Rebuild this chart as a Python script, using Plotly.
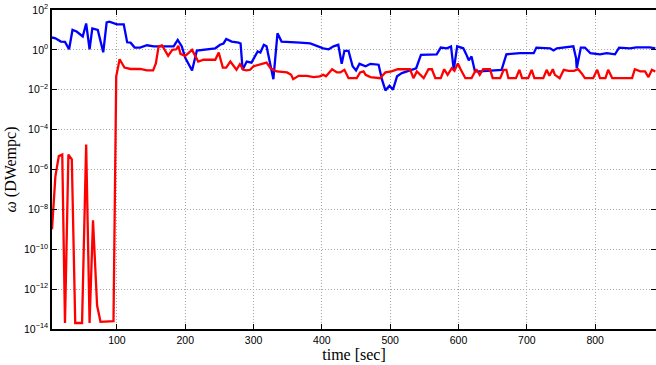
import plotly.graph_objects as go

# ---- data ----
blue_t = [5, 10, 18, 24, 30, 35, 41, 50, 55, 60, 64, 72, 80, 85, 89, 100, 110, 115, 120, 126,
          134, 144, 154, 183, 189, 195, 200, 210, 217, 226, 237, 244, 251, 256, 260, 268, 278, 281, 284, 290,
          297, 302, 306, 310, 315, 319, 324, 329, 335, 341, 368, 383, 402, 410, 417, 424, 429, 433, 439, 445,
          450, 455, 464, 471, 483, 488, 493, 499, 504, 510, 517, 524, 538, 545, 568, 574, 583, 589, 593, 598,
          607, 611, 615, 619, 624, 631, 663, 670, 690, 710, 714, 734, 739, 744, 768, 772, 773, 779, 785, 793,
          807, 817, 829, 835, 851, 860, 880, 888]
blue_val = [4.2, 3.8, 2.6, 2.5, 1.07, 10, 8.3, 4.7, 21, 1.07, 12, 10, 0.76, 24, 26, 19, 19, 2.4, 2.3, 1.3,
            1.3, 1.7, 1.5, 1.5, 3.2, 1.5, 0.40, 0.093, 0.93, 1.0, 1.07, 1.2, 1.8, 2.1, 3.5, 2.6, 2.3, 2.1, 0.1, 0.26,
            0.23, 0.43, 0.83, 0.74, 1.8, 1.5, 0.21, 0.034, 6.8, 2.6, 2.3, 2.1, 1.2, 1.07, 1.5, 1.8, 0.20, 0.89, 0.89, 0.15,
            0.093, 0.20, 0.15, 0.20, 0.18, 0.032, 0.0093, 0.016, 0.010, 0.047, 0.068, 0.083, 0.12, 0.56, 0.60, 1.3, 1.2, 1.5, 0.10, 1.5,
            1.2, 0.63, 0.30, 0.47, 0.083, 0.083, 0.10, 0.60, 0.68, 0.68, 1.3, 1.2, 0.93, 1.2, 1.5, 0.38, 0.12, 1.3, 1.3, 0.68,
            0.60, 0.68, 0.60, 1.3, 1.2, 1.35, 1.35, 1.2]

red_t = [5, 10, 15, 20, 24, 29, 34, 39, 49, 55, 60, 65, 71, 76, 95, 99, 104, 111, 120, 134,
         144, 153, 157, 161, 166, 175, 181, 187, 190, 193, 200, 210, 219, 227, 244, 249, 255, 260, 266, 275,
         280, 285, 290, 295, 300, 310, 319, 325, 334, 349, 355, 358, 366, 378, 388, 397, 402, 406, 415, 422,
         427, 433, 439, 451, 456, 461, 464, 471, 485, 493, 502, 511, 529, 534, 539, 549, 556, 561, 566, 574,
         579, 584, 590, 594, 599, 603, 610, 619, 626, 631, 636, 646, 650, 661, 666, 670, 673, 684, 689, 693,
         702, 707, 711, 724, 729, 733, 738, 741, 748, 754, 761, 769, 775, 780, 785, 797, 803, 807, 815, 819,
         825, 854, 858, 866, 873, 878, 883, 888]
red_val = [1e-9, 4.7e-7, 4.7e-6, 5.6e-6, 2e-14, 5.6e-6, 3.2e-6, 2e-14, 2e-14, 1.8e-5, 2e-14, 2.8e-9, 1.5e-13, 2.3e-14, 2.5e-14, 0.047, 0.34, 0.13, 0.11, 0.11,
           0.093, 0.093, 0.21, 1.5, 1.7, 0.5, 1.0, 1.07, 1.6, 0.63, 0.5, 1.0, 0.26, 0.32, 0.32, 0.74, 0.13, 0.13, 0.26, 0.1,
           0.19, 0.1, 0.093, 0.1, 0.15, 0.19, 0.23, 0.12, 0.083, 0.074, 0.056, 0.034, 0.05, 0.05, 0.043, 0.047, 0.056, 0.047, 0.107, 0.074,
           0.074, 0.1, 0.038, 0.038, 0.074, 0.083, 0.056, 0.043, 0.038, 0.074, 0.083, 0.107, 0.107, 0.038, 0.083, 0.038, 0.107, 0.107, 0.038, 0.038,
           0.107, 0.056, 0.12, 0.089, 0.21, 0.107, 0.038, 0.038, 0.107, 0.056, 0.107, 0.107, 0.038, 0.038, 0.1, 0.1, 0.038, 0.038, 0.1, 0.038,
           0.038, 0.1, 0.038, 0.038, 0.1, 0.05, 0.107, 0.056, 0.038, 0.1, 0.089, 0.089, 0.107, 0.068, 0.038, 0.038, 0.1, 0.038, 0.038, 0.1,
           0.038, 0.038, 0.107, 0.083, 0.083, 0.043, 0.1, 0.083]

x_tick_vals = [100, 200, 300, 400, 500, 600, 700, 800]
y_exponents = [-14, -12, -10, -8, -6, -4, -2, 0, 2]
y_tick_vals = [10.0 ** e for e in y_exponents]
y_tick_text = ["10<sup>" + str(e).replace("-", "\u2212") + "</sup>" for e in y_exponents]

fig = go.Figure()
fig.add_trace(go.Scatter(x=blue_t, y=blue_val, mode="lines",
                         line=dict(color="rgb(0,0,255)", width=2.3), showlegend=False))
fig.add_trace(go.Scatter(x=red_t, y=red_val, mode="lines",
                         line=dict(color="rgb(255,0,0)", width=2.3), showlegend=False))

tick_font = dict(family="Liberation Sans, Arial, sans-serif", size=10.5, color="black")
grid_dash = "1px,2px"

fig.update_layout(
    width=656, height=365,
    margin=dict(l=52, r=0, t=10, b=36),
    paper_bgcolor="white", plot_bgcolor="white",
    xaxis=dict(
        range=[5, 889], tickvals=x_tick_vals, ticks="inside", ticklen=5, tickwidth=1,
        tickcolor="black", showline=True, linecolor="black", linewidth=2, mirror="allticks",
        showgrid=True, gridcolor="#a8a8a8", griddash=grid_dash, gridwidth=1, zeroline=False,
        tickfont=tick_font, automargin=False,
        title=dict(text="time [sec]", font=dict(family="Liberation Serif, Times New Roman, serif", size=16, color="black"),
                   standoff=0),
    ),
    yaxis=dict(
        type="log", range=[-14, 2], tickvals=y_tick_vals, ticktext=y_tick_text,
        ticks="inside", ticklen=5, tickwidth=1, tickcolor="black",
        showline=True, linecolor="black", linewidth=1.5, mirror="allticks",
        showgrid=True, gridcolor="#a8a8a8", griddash=grid_dash, gridwidth=1, zeroline=False,
        tickfont=tick_font, automargin=False,
        title=dict(text="<i>\u03c9</i> (DWempc)", font=dict(family="Liberation Serif, Times New Roman, serif", size=16, color="black"),
                   standoff=3),
    ),
)

fig.write_html("out.html", config={"displayModeBar": False},
               post_script="document.body.style.margin='0';document.body.style.padding='0';")
